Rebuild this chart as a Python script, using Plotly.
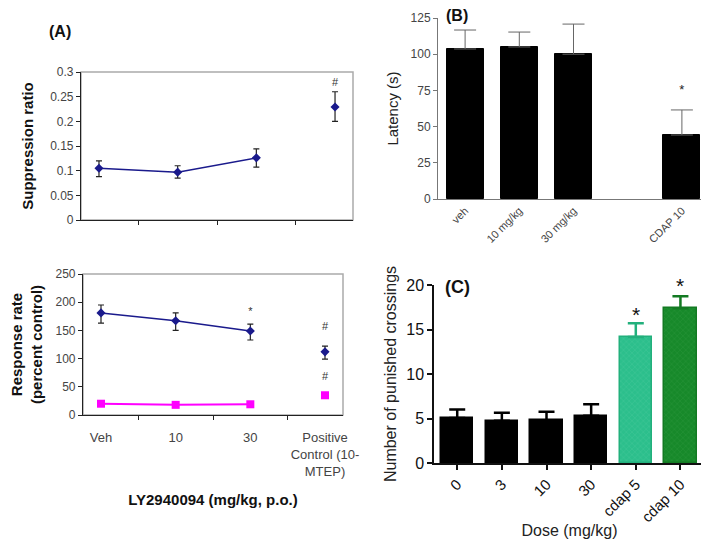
import plotly.graph_objects as go

# ---------------- data ----------------
# Panel A (top): suppression ratio
a_cats = ["Veh", "10", "30", "Positive<br>Control (10-<br>MTEP)"]
a_supp = [0.105, 0.097, 0.126, 0.229]
a_supp_hi = [0.015, 0.013, 0.018, 0.031]
a_supp_lo = [0.017, 0.012, 0.019, 0.029]

# Panel A (bottom): response rate
a_resp_blue = [181, 167, 149, 112]
a_resp_blue_hi = [14, 14, 12, 10]
a_resp_blue_lo = [18, 17, 16, 13]
a_resp_pink = [20, 18, 19, 35]

# Panel B: latency
b_labels = ["veh", "10 mg/kg", "30 mg/kg", "CDAP 10"]
b_pos = [0, 1, 2, 4]
b_vals = [103.6, 105.0, 100.0, 44.2]
b_err = [13.1, 10.3, 20.8, 17.3]

# Panel C: punished crossings
c_labels = ["0", "3", "10", "30", "cdap 5", "cdap 10"]
c_vals = [5.05, 4.75, 4.8, 5.3, 14.15, 17.4]
c_err = [0.95, 0.9, 0.95, 1.3, 1.55, 1.35]
c_colors = ["#000000", "#000000", "#000000", "#000000", "#2cbf8c", "#17892a"]
c_line = ["#000000", "#000000", "#000000", "#000000", "#22b07c", "#137a22"]
c_pattern_fg = ["#000000", "#000000", "#000000", "#000000", "#5fd3a8", "#3fa84a"]
c_star_pos = [4, 5]
c_star_y = [16.7, 19.9]

OFF = 8  # page body margin
W, H = 709 - OFF, 539 - OFF
def px(x):
    return (x - OFF) / W
def py(y):
    return 1 - (y - OFF) / H

navy = "#1a1a8c"
fig = go.Figure()

# ---- Panel A top
fig.add_trace(go.Scatter(
    x=a_cats[:3], y=a_supp[:3], mode="lines+markers",
    line=dict(color=navy, width=1.5),
    marker=dict(symbol="diamond", size=7, color=navy),
    error_y=dict(type="data", array=a_supp_hi[:3], arrayminus=a_supp_lo[:3],
                 color="#222", thickness=1.2, width=3),
    xaxis="x", yaxis="y", showlegend=False))
fig.add_trace(go.Scatter(
    x=a_cats[3:], y=a_supp[3:], mode="markers",
    marker=dict(symbol="diamond", size=7, color=navy),
    error_y=dict(type="data", array=a_supp_hi[3:], arrayminus=a_supp_lo[3:],
                 color="#222", thickness=1.2, width=3),
    xaxis="x", yaxis="y", showlegend=False))
fig.add_trace(go.Scatter(x=[a_cats[3]], y=[0.277], mode="text", text=["#"],
                         textfont=dict(size=11, color="#333", family="Liberation Sans"),
                         cliponaxis=False, xaxis="x", yaxis="y", showlegend=False))

# ---- Panel A bottom
fig.add_trace(go.Scatter(
    x=a_cats[:3], y=a_resp_blue[:3], mode="lines+markers",
    line=dict(color=navy, width=1.5),
    marker=dict(symbol="diamond", size=7, color=navy),
    error_y=dict(type="data", array=a_resp_blue_hi[:3], arrayminus=a_resp_blue_lo[:3],
                 color="#222", thickness=1.2, width=3),
    xaxis="x2", yaxis="y2", showlegend=False))
fig.add_trace(go.Scatter(
    x=a_cats[3:], y=a_resp_blue[3:], mode="markers",
    marker=dict(symbol="diamond", size=7, color=navy),
    error_y=dict(type="data", array=a_resp_blue_hi[3:], arrayminus=a_resp_blue_lo[3:],
                 color="#222", thickness=1.2, width=3),
    xaxis="x2", yaxis="y2", showlegend=False))
fig.add_trace(go.Scatter(
    x=a_cats[:3], y=a_resp_pink[:3], mode="lines+markers",
    line=dict(color="#ff00ff", width=2),
    marker=dict(symbol="square", size=8, color="#ff00ff"),
    xaxis="x2", yaxis="y2", showlegend=False))
fig.add_trace(go.Scatter(
    x=a_cats[3:], y=a_resp_pink[3:], mode="markers",
    marker=dict(symbol="square", size=8, color="#ff00ff"),
    xaxis="x2", yaxis="y2", showlegend=False))
fig.add_trace(go.Scatter(x=[a_cats[2], a_cats[3], a_cats[3]], y=[182, 156, 67],
                         mode="text", text=["*", "#", "#"],
                         textfont=dict(size=11, color="#333", family="Liberation Sans"),
                         xaxis="x2", yaxis="y2", showlegend=False))

# ---- Panel B
fig.add_trace(go.Bar(
    x=b_pos, y=b_vals, width=0.68,
    marker=dict(color="#000000", line=dict(color="#000", width=1)),
    error_y=dict(type="data", array=b_err, arrayminus=[0] * 4, symmetric=False,
                 color="#666", thickness=1, width=11),
    xaxis="x3", yaxis="y3", showlegend=False))
fig.add_trace(go.Scatter(x=[b_pos[3]], y=[75], mode="text", text=["*"],
                         textfont=dict(size=13, color="#222", family="Liberation Sans"),
                         xaxis="x3", yaxis="y3", showlegend=False))

# ---- Panel C
for i in range(len(c_vals)):
    pat = dict(shape="x", size=4, solidity=0.2, fgcolor=c_pattern_fg[i]) if i >= 4 else dict(shape="")
    fig.add_trace(go.Bar(
        x=[i], y=[c_vals[i]], width=0.72,
        marker=dict(color=c_colors[i], line=dict(color=c_line[i], width=1.5), pattern=pat),
        error_y=dict(type="data", array=[c_err[i]], arrayminus=[0], symmetric=False,
                     color=c_line[i], thickness=2.5, width=8),
        xaxis="x4", yaxis="y4", showlegend=False))

gray_tick = dict(family="Liberation Sans, Arial", size=12, color="#444")

annotations = [
    dict(text="<b>(A)</b>", x=px(60), y=py(31), xref="paper", yref="paper",
         xanchor="center", yanchor="middle",
         showarrow=False, font=dict(size=16, color="#111")),
    dict(text="<b>(B)</b>", x=px(457), y=py(15), xref="paper", yref="paper",
         xanchor="center", yanchor="middle",
         showarrow=False, font=dict(size=16, color="#111")),
    dict(text="<b>(C)</b>", x=px(457), y=py(287), xref="paper", yref="paper",
         xanchor="center", yanchor="middle",
         showarrow=False, font=dict(size=18, color="#111")),
]
for sx, sy in zip(c_star_pos, c_star_y):
    annotations.append(dict(text="*", x=sx, y=sy, xref="x4", yref="y4",
                            xanchor="center", yanchor="middle", showarrow=False,
                            font=dict(size=21, color="#111", family="Liberation Sans")))

fig.update_layout(
    width=W, height=H, margin=dict(l=0, r=0, t=0, b=0, pad=0, autoexpand=False),
    paper_bgcolor="white", plot_bgcolor="rgba(0,0,0,0)",
    font=dict(family="Liberation Sans, Arial", color="#111"),
    bargap=0, barmode="overlay",
    xaxis=dict(domain=[px(81), px(353)], anchor="y", type="category", automargin=False,
               tickson="boundaries", ticks="outside", ticklen=4, tickcolor="#222",
               showticklabels=False, showline=True, linecolor="#222", linewidth=1.2,
               showgrid=False, zeroline=False, fixedrange=True),
    yaxis=dict(domain=[py(220), py(72)], anchor="x", range=[0, 0.3], automargin=False,
               tickvals=[0, 0.05, 0.1, 0.15, 0.2, 0.25, 0.3],
               ticktext=["0", "0.05", "0.1", "0.15", "0.2", "0.25", "0.3"],
               ticks="outside", ticklen=4, tickcolor="#222", tickfont=gray_tick,
               showline=True, linecolor="#222", linewidth=1.2, showgrid=False, zeroline=False,
               title=dict(text="<b>Suppression ratio</b>", font=dict(size=15, color="#111"),
                          standoff=12)),
    xaxis2=dict(domain=[px(83), px(343)], anchor="y2", type="category", automargin=False,
                tickson="boundaries", ticks="outside", ticklen=4, tickcolor="#222",
                ticklabelstandoff=10,
                tickfont=dict(family="Liberation Sans, Arial", size=13, color="#444"),
                showline=True, linecolor="#222", linewidth=1.2,
                showgrid=False, zeroline=False,
                title=dict(text="<b>LY2940094 (mg/kg, p.o.)</b>",
                           font=dict(size=15, color="#111"), standoff=16)),
    yaxis2=dict(domain=[py(415), py(274)], anchor="x2", range=[0, 250], dtick=50,
                automargin=False,
                ticks="outside", ticklen=4, tickcolor="#222", tickfont=gray_tick,
                showline=True, linecolor="#222", linewidth=1.2, showgrid=False, zeroline=False,
                title=dict(text="<b>Response rate<br>(percent control)</b>",
                           font=dict(size=15, color="#111"), standoff=15)),
    xaxis3=dict(domain=[px(438), px(709)], anchor="y3", range=[-0.5, 4.5], automargin=False,
                tickvals=b_pos, ticktext=b_labels, tickangle=-45, ticks="",
                tickfont=dict(family="Liberation Sans, Arial", size=11, color="#444"),
                showline=True, linecolor="#777", linewidth=1, showgrid=False, zeroline=False),
    yaxis3=dict(domain=[py(199), py(18)], anchor="x3", range=[0, 125], dtick=25,
                automargin=False,
                ticks="outside", ticklen=4, tickcolor="#777", tickfont=gray_tick,
                showline=True, linecolor="#777", linewidth=1, showgrid=False, zeroline=False,
                title=dict(text="Latency (s)", font=dict(size=15, color="#222"), standoff=8)),
    xaxis4=dict(domain=[px(434), px(705)], anchor="y4", range=[-0.52, 5.55], automargin=False,
                tickvals=list(range(len(c_labels))), ticktext=c_labels, tickangle=-45,
                ticks="outside", ticklen=5, tickcolor="#111", tickwidth=1.5,
                tickfont=dict(family="Liberation Sans, Arial", size=15, color="#111"),
                showline=True, linecolor="#111", linewidth=1.5, showgrid=False, zeroline=False,
                title=dict(text="Dose (mg/kg)", font=dict(size=16, color="#222"), standoff=4)),
    yaxis4=dict(domain=[py(463), py(285)], anchor="x4", range=[0, 20], dtick=5,
                automargin=False,
                ticks="outside", ticklen=5, tickcolor="#111", tickwidth=1.5,
                tickfont=dict(family="Liberation Sans, Arial", size=16, color="#111"),
                showline=True, linecolor="#111", linewidth=1.5, showgrid=False, zeroline=False,
                title=dict(text="Number of punished crossings",
                           font=dict(size=16, color="#222"), standoff=6)),
    shapes=[
        dict(type="rect", xref="x domain", yref="y domain", x0=0, x1=1, y0=0, y1=1,
             line=dict(color="#aaa", width=1.5), layer="below"),
        dict(type="rect", xref="x2 domain", yref="y2 domain", x0=0, x1=1, y0=0, y1=1,
             line=dict(color="#aaa", width=1.5), layer="below"),
    ],
    annotations=annotations,
)

fig.write_html("out.html")
